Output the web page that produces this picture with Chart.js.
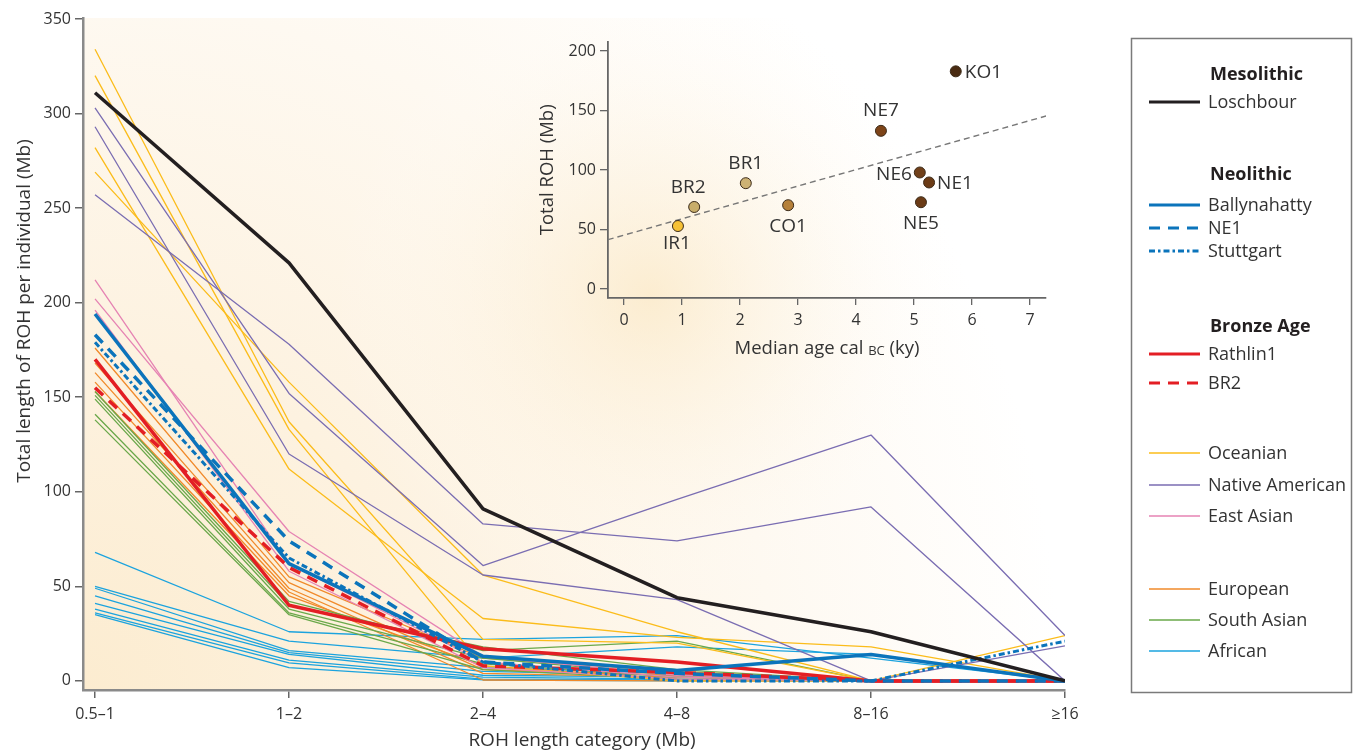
<!DOCTYPE html>
<html><head><meta charset="utf-8">
<script src="https://cdn.jsdelivr.net/npm/chart.js@4.4.1/dist/chart.umd.min.js"></script>
<style>
html,body{margin:0;padding:0;background:#fff;}
#wrap{position:relative;width:1354px;height:752px;overflow:hidden;}
#main{position:absolute;left:0;top:0;}
#inset{position:absolute;left:520px;top:28px;}
</style></head><body>
<div id="wrap"><canvas id="main" width="1354" height="752"></canvas><canvas id="inset" width="540" height="340"></canvas></div>
<script>
// ---------- DATA (main chart) ----------
const categories = ['0.5–1','1–2','2–4','4–8','8–16','≥16'];
const yTicks = [0,50,100,150,200,250,300,350];
const loschbour    = [311,221,91,44,26,0];
const ballynahatty = [194,62,13,5.5,14,0];
const ne1          = [183,74,10,4,0,0];
const stuttgart    = [179,65,10,0,0,21];
const rathlin1     = [170,40,17,10,0,0];
const br2          = [155,60,8,4.5,0,0];
const oceanian = [[334,137,22,20,0,0],[320,133,8,0,0,24],[269,158,56,26,0,0],[282,112,33,23,18,0]];
const nativeAmerican = [[257,178,83,74,92,0],[303,152,61,96,130,24],[293,120,56,43,0,18.5]];
const eastAsian = [[212,62,10,2,0,0],[202,79,13,3,0,0],[196,58,7,1,0,0]];
const european = [[176,55,12,5,0,0],[168,52,6,3,0,0],[163,49,4,2,0,0],[158,47,0.5,0,0,0],[153,45,8,1,0,0]];
const southAsian = [[153,42,16,21,0,0],[151,40,18,6,0,0],[149,38,12,3,0,0],[141,36,9,2,0,0],[138,35,6,1,0,0]];
const african = [[68,26,22,24,12,0],[50,21,12,18,14,0],[49,16,7,4,0,0],[45,15,5,3,0,0],[41,14,3,2,0,0],[38,11,2,1,0,0],[36,9.5,1,0.5,0,0],[35,7,0.5,0,0,0]];

// ---------- DATA (inset) ----------
const insetNames = ['IR1','BR2','BR1','CO1','NE7','NE6','NE1','NE5','KO1'];
const insetAge   = [0.93,1.21,2.10,2.83,4.43,5.10,5.26,5.12,5.72];
const insetROH   = [53,69,89,70.5,133,98,89.6,73,183];
const insetXTicks = [0,1,2,3,4,5,6,7];
const insetYTicks = [0,50,100,150,200];
const trendAge = [-0.28,7.28];
const trendROH = [41.5,145.5];

// ---------- STYLES ----------
const FONT = "'Open Sans','Noto Sans',sans-serif";
const TXT = '#333';
const S = {
  Loschbour:{c:'#231f20',w:3.5,d:[]},
  Ballynahatty:{c:'#0b74bb',w:3.5,d:[]},
  NE1:{c:'#0b74bb',w:3.5,d:[11,8]},
  Stuttgart:{c:'#0b74bb',w:3,d:[6,3,2.5,3]},
  Rathlin1:{c:'#e31e24',w:3.5,d:[]},
  BR2:{c:'#e31e24',w:3.5,d:[11,8]},
  Oceanian:{c:'#fbbc1a',w:1.3,d:[]},
  'Native American':{c:'#7a6db2',w:1.3,d:[]},
  'East Asian':{c:'#e683b3',w:1.3,d:[]},
  European:{c:'#f18a2a',w:1.3,d:[]},
  'South Asian':{c:'#6aa84a',w:1.3,d:[]},
  African:{c:'#1ba3de',w:1.3,d:[]}
};
const insetColors = ['#f6c136','#c8ad6a','#cdb274','#b5803a','#7d4418','#70401a','#6b3b16','#6b3b16','#4a2b12'];
const insetLabelPos = {IR1:[-1,18,'center'],BR2:[-6,-19,'center'],BR1:[0,-20,'center'],CO1:[0,21,'center'],NE7:[0,-20,'center'],NE6:[-8,2,'right'],NE1:[8,1,'left'],NE5:[0,21,'center'],KO1:[9,1,'left']};

function ds(key, data, order){
  const s = S[key];
  return {label:key, data:data.map((v,i)=>({x:i,y:v})), borderColor:s.c, borderWidth:s.w,
    borderDash:s.d, pointRadius:0, pointHoverRadius:0, fill:false, tension:0, order:order,
    borderCapStyle:'butt', borderJoinStyle:'round'};
}
const datasets = [];
datasets.push(ds('Loschbour',loschbour,0));
datasets.push(ds('Ballynahatty',ballynahatty,1));
datasets.push(ds('NE1',ne1,1));
datasets.push(ds('Stuttgart',stuttgart,1));
datasets.push(ds('Rathlin1',rathlin1,1));
datasets.push(ds('BR2',br2,1));
african.forEach(a=>datasets.push(ds('African',a,12)));
southAsian.forEach(a=>datasets.push(ds('South Asian',a,11)));
european.forEach(a=>datasets.push(ds('European',a,11)));
eastAsian.forEach(a=>datasets.push(ds('East Asian',a,10)));
nativeAmerican.forEach(a=>datasets.push(ds('Native American',a,10)));
oceanian.forEach(a=>datasets.push(ds('Oceanian',a,10)));

const legendHeads = [['Mesolithic',75],['Neolithic',175],['Bronze Age',327]];
const legendItems = [['Loschbour',102],['Ballynahatty',205],['NE1',228],['Stuttgart',251],['Rathlin1',354],['BR2',383],['Oceanian',453],['Native American',485],['East Asian',516],['European',589],['South Asian',620],['African',651]];

const mainPlugin = {
  id:'mainDeco',
  beforeDraw(chart){
    const {ctx, chartArea:a} = chart;
    ctx.save();
    ctx.fillStyle='#fff'; ctx.fillRect(0,0,chart.width,chart.height);
    ctx.beginPath(); ctx.rect(a.left,a.top,a.right-a.left+40,a.bottom-a.top); ctx.clip();
    const g = ctx.createRadialGradient(a.left, a.bottom, 0, a.left, a.bottom, 1150);
    g.addColorStop(0,'#fcecd0');
    g.addColorStop(0.3,'#fdf2e0');
    g.addColorStop(0.6,'#fef9f1');
    g.addColorStop(0.85,'#ffffff');
    ctx.fillStyle=g; ctx.fillRect(a.left,a.top,a.right-a.left+40,a.bottom-a.top);
    // soft glow behind the inset plot
    const g2 = ctx.createRadialGradient(650, 296, 0, 650, 296, 320);
    g2.addColorStop(0,'rgba(250,228,186,0.6)');
    g2.addColorStop(0.45,'rgba(252,238,212,0.3)');
    g2.addColorStop(1,'rgba(255,255,255,0)');
    ctx.fillStyle=g2; ctx.fillRect(a.left,a.top,a.right-a.left+40,a.bottom-a.top);
    ctx.restore();
  },
  afterDraw(chart){
    const ctx = chart.ctx;
    ctx.save();
    ctx.fillStyle=TXT; ctx.font="19px "+FONT; ctx.textAlign='center'; ctx.textBaseline='middle';
    ctx.fillText('ROH length category (Mb)', 582, 741);
    ctx.translate(25,311); ctx.rotate(-Math.PI/2);
    ctx.fillText('Total length of ROH per individual (Mb)',0,0);
    ctx.restore();
    // legend
    ctx.save();
    ctx.strokeStyle='#7a7a7a'; ctx.lineWidth=1.5;
    ctx.strokeRect(1131.5,38.5,220,654);
    ctx.textBaseline='middle'; ctx.textAlign='left'; ctx.fillStyle='#231f20';
    ctx.font="bold 18px "+FONT;
    legendHeads.forEach(([t,y])=>ctx.fillText(t,1210,y));
    ctx.font="18px "+FONT; ctx.fillStyle=TXT;
    legendItems.forEach(([k,y])=>{
      const s=S[k];
      ctx.beginPath(); ctx.strokeStyle=s.c; ctx.lineWidth=Math.min(s.w,3);
      ctx.setLineDash(s.d); ctx.moveTo(1149,y); ctx.lineTo(1200,y); ctx.stroke();
      ctx.setLineDash([]);
      ctx.fillText(k,1208,y+1);
    });
    ctx.restore();
  }
};

Chart.defaults.font.family = FONT;
new Chart(document.getElementById('main'), {
  type:'line',
  data:{datasets},
  options:{
    responsive:false, animation:false, devicePixelRatio:1,
    layout:{padding:{left:0,right:289,top:18,bottom:0}},
    plugins:{legend:{display:false},tooltip:{enabled:false}},
    scales:{
      x:{type:'linear', min:-0.062, max:5,
        afterBuildTicks:s=>{s.ticks=categories.map((c,i)=>({value:i}));},
        afterFit:s=>{s.height=62;},
        ticks:{callback:v=>categories[v], font:{size:16}, color:TXT, padding:7, maxRotation:0, autoSkip:false},
        grid:{drawOnChartArea:false, tickLength:8, color:'#666', lineWidth:1.5},
        border:{display:true, color:'#8a8a8a', width:2.5}
      },
      y:{type:'linear', min:-4.8, max:350.5,
        afterBuildTicks:s=>{s.ticks=yTicks.map(v=>({value:v}));},
        afterFit:s=>{s.width=83;},
        ticks:{font:{size:16}, color:TXT, padding:4},
        grid:{drawOnChartArea:false, tickLength:8, color:'#666', lineWidth:1.5},
        border:{display:true, color:'#8a8a8a', width:2.5}
      }
    }
  },
  plugins:[mainPlugin]
});

// ---------- INSET ----------
const insetPlugin = {
  id:'insetDeco',
  afterDatasetsDraw(chart){
    const ctx=chart.ctx, xs=chart.scales.x, ys=chart.scales.y;
    ctx.save();
    ctx.font="19px "+FONT; ctx.fillStyle=TXT; ctx.textBaseline='middle';
    insetNames.forEach((n,i)=>{
      const p=insetLabelPos[n];
      ctx.textAlign=p[2];
      ctx.fillText(n, xs.getPixelForValue(insetAge[i])+p[0], ys.getPixelForValue(insetROH[i])+p[1]);
    });
    ctx.restore();
  },
  afterDraw(chart){
    const ctx=chart.ctx, a=chart.chartArea;
    ctx.save(); ctx.fillStyle=TXT; ctx.textBaseline='middle';
    const cx=(a.left+a.right)/2, cy=321;
    const p1='Median age cal ', p2='BC', p3=' (ky)';
    ctx.font="18.5px "+FONT; const w1=ctx.measureText(p1).width, w3=ctx.measureText(p3).width;
    ctx.font="13px "+FONT; const w2=ctx.measureText(p2).width;
    let x=cx-(w1+w2+w3)/2; ctx.textAlign='left';
    ctx.font="18.5px "+FONT; ctx.fillText(p1,x,cy); x+=w1;
    ctx.font="13px "+FONT; ctx.fillText(p2,x,cy+2); x+=w2;
    ctx.font="18.5px "+FONT; ctx.fillText(p3,x,cy);
    ctx.translate(28,(a.top+a.bottom)/2); ctx.rotate(-Math.PI/2); ctx.textAlign='center';
    ctx.fillText('Total ROH (Mb)',0,0);
    ctx.restore();
  }
};
new Chart(document.getElementById('inset'), {
  type:'scatter',
  data:{datasets:[
    {data:insetAge.map((x,i)=>({x,y:insetROH[i]})), backgroundColor:insetColors, borderColor:'#3b2a18', borderWidth:1, pointRadius:5.5, pointHoverRadius:5.5, order:1},
    {type:'line', data:trendAge.map((x,i)=>({x,y:trendROH[i]})), borderColor:'#777', borderWidth:1.4, borderDash:[6,4], pointRadius:0, fill:false, order:2}
  ]},
  options:{
    responsive:false, animation:false, devicePixelRatio:1,
    layout:{padding:{left:0,right:14,top:10,bottom:0}},
    plugins:{legend:{display:false},tooltip:{enabled:false}},
    scales:{
      x:{type:'linear', min:-0.276, max:7.276,
        afterBuildTicks:s=>{s.ticks=insetXTicks.map(v=>({value:v}));},
        afterFit:s=>{s.height=70;},
        ticks:{font:{size:16}, color:TXT, padding:6},
        grid:{drawOnChartArea:false, tickLength:7, color:'#666', lineWidth:1.3},
        border:{display:true, color:'#666', width:1.8}
      },
      y:{type:'linear', min:-7.5, max:208,
        afterBuildTicks:s=>{s.ticks=insetYTicks.map(v=>({value:v}));},
        afterFit:s=>{s.width=88;},
        ticks:{font:{size:16}, color:TXT, padding:4},
        grid:{drawOnChartArea:false, tickLength:8, color:'#666', lineWidth:1.3},
        border:{display:true, color:'#666', width:1.8}
      }
    }
  },
  plugins:[insetPlugin]
});
</script>
</body></html>
